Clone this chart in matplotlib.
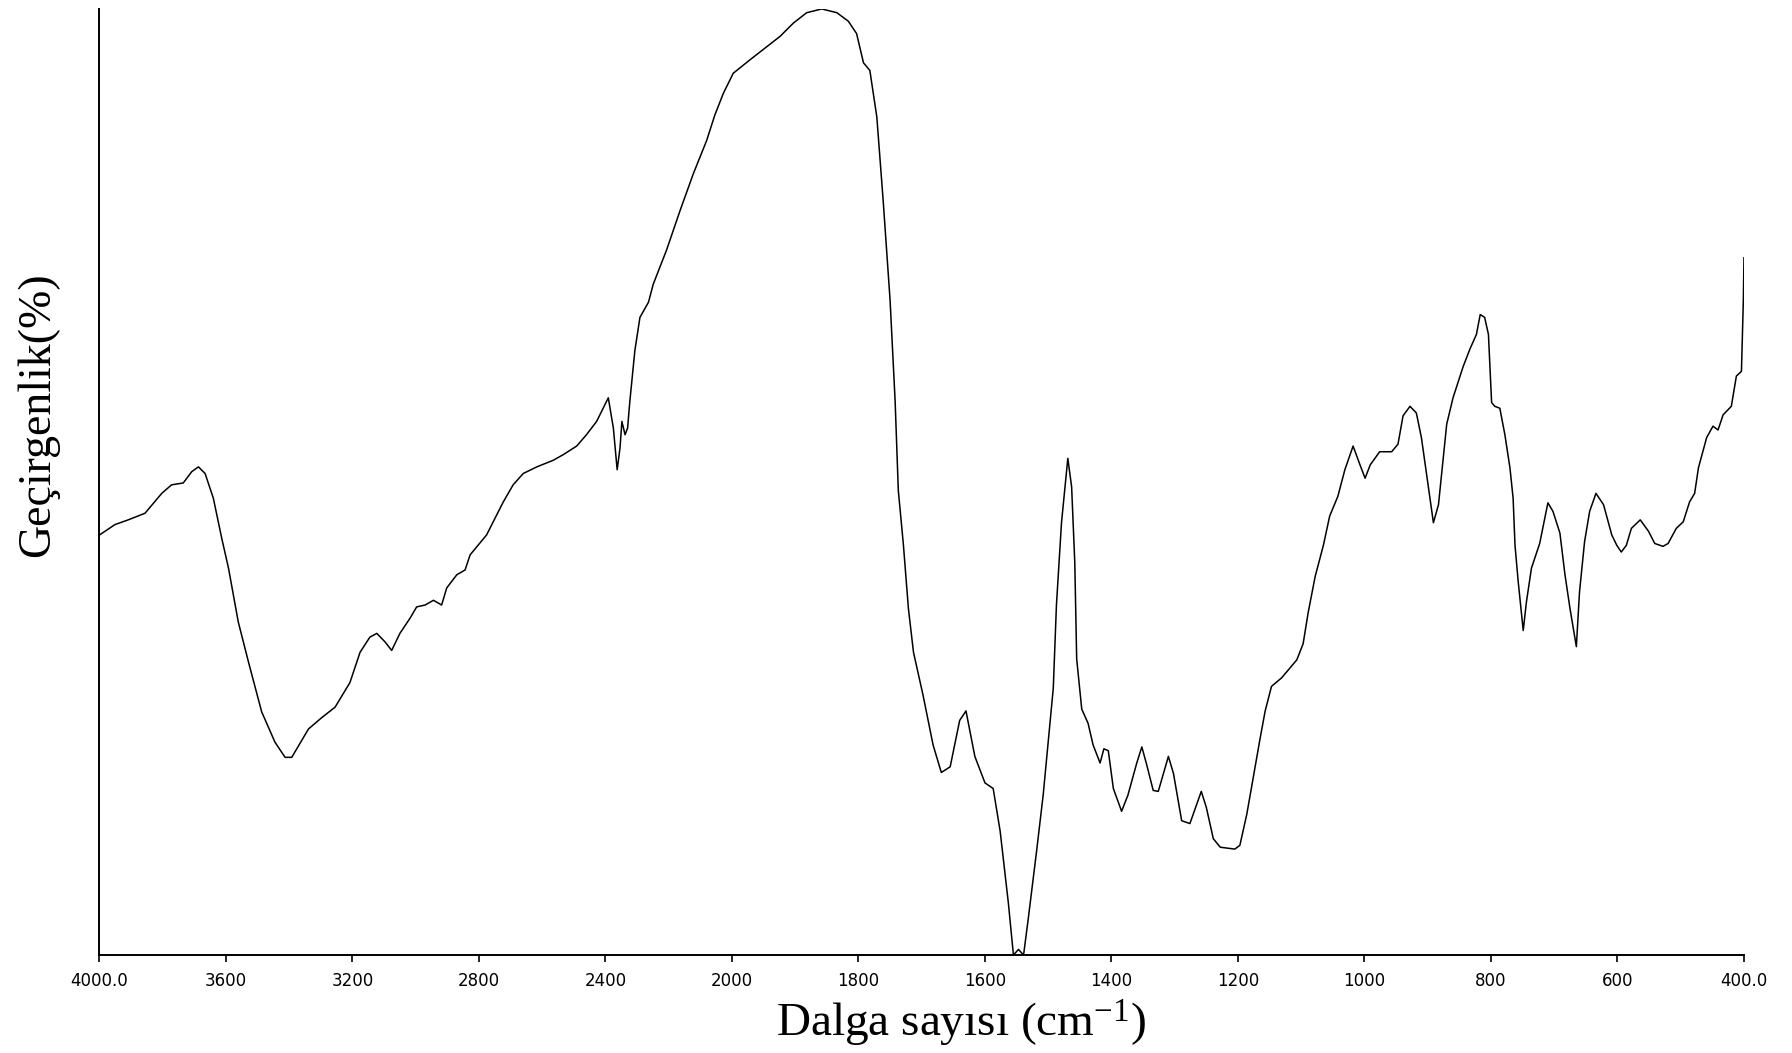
import numpy as np
import matplotlib
matplotlib.use("Agg")
import matplotlib.pyplot as plt

# FTIR spectrum (wavenumber in cm-1, transmittance in arbitrary %)
wavenumber = [4000, 3951, 3909, 3856, 3803, 3772, 3735, 3708, 3687, 3666,
              3640, 3613, 3592, 3561, 3529, 3487, 3445, 3413, 3392, 3339,
              3297, 3255, 3208, 3176, 3145, 3123, 3097, 3076, 3050, 3018,
              2997, 2970, 2944, 2918, 2902, 2870, 2844, 2828, 2776, 2744,
              2723, 2692, 2660, 2617, 2565, 2533, 2491, 2460, 2428, 2391,
              2375, 2363, 2354, 2348, 2338, 2330, 2323, 2307, 2291, 2264,
              2249, 2207, 2164, 2122, 2080, 2054, 2027, 1998, 1972, 1945,
              1924, 1903, 1882, 1858, 1834, 1816, 1803, 1792, 1782, 1771,
              1761, 1750, 1742, 1737, 1729, 1721, 1713, 1698, 1682, 1669,
              1655, 1640, 1630, 1616, 1600, 1587, 1576, 1563, 1555, 1547,
              1539, 1532, 1518, 1508, 1492, 1487, 1479, 1469, 1463, 1458,
              1455, 1447, 1437, 1429, 1418, 1412, 1405, 1397, 1384, 1374,
              1360, 1352, 1345, 1334, 1326, 1310, 1302, 1289, 1276, 1268,
              1258, 1250, 1239, 1228, 1205, 1197, 1186, 1176, 1165, 1157,
              1147, 1131, 1107, 1097, 1089, 1078, 1065, 1055, 1042, 1031,
              1018, 1007, 999, 991, 976, 957, 947, 939, 928, 918,
              910, 899, 891, 883, 870, 860, 844, 833, 823, 817,
              810, 804, 799, 794, 786, 778, 770, 765, 762, 757,
              749, 744, 736, 723, 710, 702, 691, 683, 675, 665,
              660, 652, 644, 634, 622, 609, 601, 594, 586, 578,
              564, 551, 541, 528, 520, 507, 496, 486, 478, 472,
              459, 449, 441, 433, 420, 412, 404, 401, 400]

transmittance = [44.4, 45.5, 46.0, 46.7, 48.8, 49.7, 49.9, 51.1, 51.6, 50.9,
                 48.3, 44.0, 40.9, 35.2, 31.0, 25.7, 22.5, 20.9, 20.9, 23.9,
                 25.1, 26.2, 28.8, 32.0, 33.6, 34.0, 33.1, 32.2, 34.0, 35.6,
                 36.8, 37.0, 37.5, 37.0, 38.8, 40.2, 40.7, 42.3, 44.4, 46.5,
                 47.9, 49.7, 50.9, 51.6, 52.3, 52.9, 53.8, 55.0, 56.4, 58.9,
                 55.7, 51.3, 53.6, 56.4, 55.0, 55.7, 58.5, 63.9, 67.4, 69.0,
                 70.9, 74.5, 78.7, 82.6, 86.1, 88.8, 91.1, 93.2, 94.6, 96.0,
                 97.1, 98.5, 99.6, 100.0, 99.6, 98.7, 97.4, 94.3, 93.5, 88.6,
                 79.8, 69.2, 58.5, 49.1, 43.4, 36.6, 32.0, 27.5, 22.2, 19.3,
                 19.9, 24.8, 25.8, 21.0, 18.2, 17.6, 13.1, 5.5, 0.0, 0.6,
                 0.0, 3.6, 11.2, 16.9, 28.2, 37.0, 45.7, 52.5, 49.5, 41.5,
                 31.3, 26.0, 24.5, 22.2, 20.3, 21.8, 21.6, 17.6, 15.2, 16.9,
                 20.3, 22.0, 20.3, 17.4, 17.3, 21.0, 19.2, 14.2, 13.9, 15.4,
                 17.3, 15.6, 12.3, 11.4, 11.2, 11.6, 14.9, 18.7, 22.9, 25.8,
                 28.4, 29.3, 31.2, 32.9, 36.2, 40.0, 43.3, 46.4, 48.5, 51.3,
                 53.8, 51.8, 50.4, 51.8, 53.2, 53.2, 54.0, 57.0, 58.0, 57.3,
                 54.7, 49.5, 45.7, 47.6, 56.1, 58.9, 62.2, 64.1, 65.6, 67.7,
                 67.4, 65.6, 58.4, 58.0, 57.8, 55.0, 51.5, 48.3, 43.3, 39.5,
                 34.3, 37.3, 40.9, 43.5, 47.8, 46.9, 44.6, 40.2, 36.6, 32.6,
                 38.4, 43.7, 46.9, 48.8, 47.6, 44.4, 43.3, 42.6, 43.3, 45.1,
                 46.0, 44.8, 43.5, 43.2, 43.5, 45.1, 45.8, 47.9, 48.8, 51.5,
                 54.7, 55.9, 55.5, 57.1, 58.0, 61.2, 61.7, 69.2, 73.7]

tick_values = [4000, 3600, 3200, 2800, 2400, 2000, 1800, 1600, 1400, 1200, 1000, 800, 600, 400]
tick_labels = ["4000.0", "3600", "3200", "2800", "2400", "2000", "1800", "1600",
               "1400", "1200", "1000", "800", "600", "400.0"]


# scale changes at 2000 cm-1 (above it the axis is compressed by two)
def fwd(x):
    x = np.asarray(x, dtype=float)
    return np.where(x > 2000, 2000 + (x - 2000) / 2.0, x)


def inv(y):
    y = np.asarray(y, dtype=float)
    return np.where(y > 2000, 2000 + (y - 2000) * 2.0, y)


plt.rcParams["mathtext.fontset"] = "custom"
plt.rcParams["mathtext.rm"] = "Liberation Serif"
plt.rcParams["mathtext.default"] = "regular"

fig = plt.figure(figsize=(17.92, 10.53), dpi=100)
ax = fig.add_axes([0.0555, 0.093, 0.9177, 0.8985])

ax.plot(wavenumber, transmittance, color="black", lw=1.1)

ax.set_xscale("function", functions=(fwd, inv))
ax.set_xlim(4000, 400)
ax.set_ylim(0, 100)
ax.set_xticks(tick_values)
ax.set_xticklabels(tick_labels, fontsize=12, family="DejaVu Sans")
ax.set_yticks([])
ax.tick_params(axis="x", direction="out", length=5, width=1.2, pad=7)

for side in ["top", "right"]:
    ax.spines[side].set_visible(False)
for side in ["left", "bottom"]:
    ax.spines[side].set_linewidth(1.4)

fig.text(0.536, 0.0155, "Dalga sayısı (cm$^{-1}$)", fontsize=34,
         family="Liberation Serif", ha="center", va="baseline")
fig.text(0.021, 0.606, "Geçirgenlik(%)", fontsize=33, family="Liberation Serif",
         rotation=90, ha="center", va="center")

fig.savefig("out.png", dpi=100)
